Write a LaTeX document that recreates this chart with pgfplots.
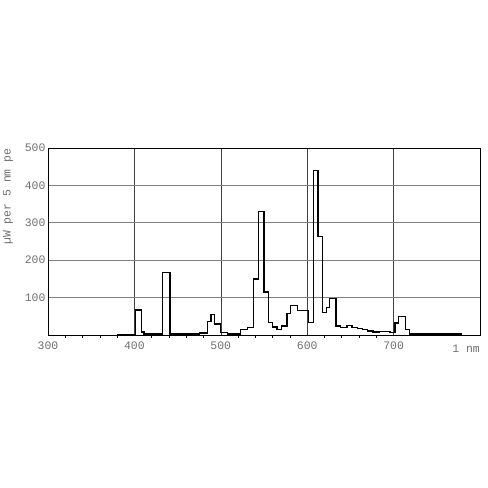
\documentclass[border=0pt]{standalone}
\usepackage{pgfplots}
\pgfplotsset{compat=1.18}
\usepackage{fontspec}
\setmonofont{Liberation Mono}
\definecolor{lblgray}{RGB}{110,110,110}

\begin{document}
\begin{tikzpicture}
\begin{axis}[
    name=spec,
    scale only axis,
    clip mode=individual,
    width=432bp, height=187bp,
    xmin=300, xmax=800,
    ymin=0, ymax=500,
    xtick={300,400,500,600,700},
    ytick={100,200,300,400,500},
    minor x tick num=4,
    tick pos=left,
    tick align=outside,
    major tick length=0pt,
    minor tick length=2.5bp,
    tick style={black, line width=0.6pt},
    xmajorgrids, ymajorgrids,
    major x grid style={black!75, line width=0.6pt},
    major y grid style={black!50, line width=0.9pt},
    axis line style={black, line width=0.8pt},
    ticklabel style={font=\ttfamily\fontsize{11.5}{13}\selectfont, text=lblgray},
    /pgf/number format/assume math mode=true,
    xticklabel style={yshift=-3bp},
    yticklabel style={xshift=1bp},
]
\addplot[const plot, black, line width=1.4pt] coordinates {
(380,2)(401,67)(408,8)(411,3)(432.5,167)(441,3)(475.5,5)(484.5,36)(488.5,55)
(492.5,29)(500,7)(508,3)(523,14)(531,20)(537.5,150)(543.5,331)(550,115)(555,33)
(560,21)(565,14)(570,24)(576.5,57)(581,79)(588.5,65)(601.5,34)(607,440)(612.5,263)
(617.5,60)(622,73)(626,98)(633.5,24)(638.5,20)(646,26)(652,20)(658,17)(664,14)
(670,11)(676,8)(683,9)(689,10)(696,6)(701.5,32)(706,50)(713.5,15)(718.5,3)(779,3)
};
\end{axis}
\node[anchor=north east, font=\ttfamily\fontsize{11.5}{13}\selectfont, text=lblgray, inner sep=0pt]
  at ([yshift=-10bp]spec.south east) {1 nm};
\node[rotate=90, anchor=west, font=\ttfamily\fontsize{11.5}{13}\selectfont, text=lblgray, inner sep=0pt]
  at ([shift={(-40bp,90bp)}]spec.south west) {µW per 5 nm pe};
\path ([shift={(-48bp,-153bp)}]spec.south west) rectangle ([shift={(440bp,335bp)}]spec.south west);
\end{tikzpicture}
\end{document}
